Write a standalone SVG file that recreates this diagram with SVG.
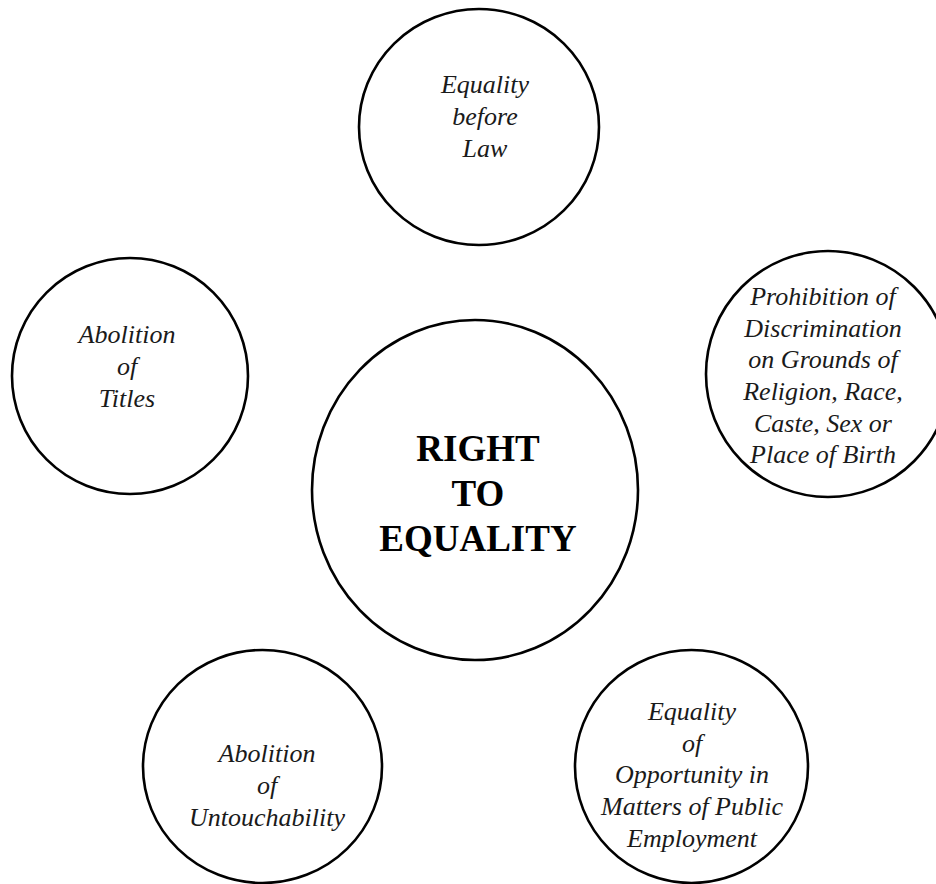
<svg xmlns="http://www.w3.org/2000/svg" width="936" height="884" viewBox="0 0 936 884">
  <style>
    .node { fill: #ffffff; stroke: #000000; stroke-width: 2.6; }
    .lbl { font-family: "Liberation Serif", "Times New Roman", serif; font-style: italic; font-size: 26px; fill: #1a1a1a; text-anchor: middle; }
    .title { font-family: "Liberation Serif", "Times New Roman", serif; font-weight: bold; font-size: 37px; fill: #000000; text-anchor: middle; }
  </style>
  <rect x="0" y="0" width="936" height="884" fill="#ffffff"/>
  <g id="connectors"/>
  <g id="node-equality-before-law">
    <ellipse class="node" cx="479" cy="127" rx="120" ry="118"/>
    <text class="lbl" x="485" y="93">Equality</text>
    <text class="lbl" x="485" y="125">before</text>
    <text class="lbl" x="485" y="157">Law</text>
  </g>
  <g id="node-abolition-titles">
    <ellipse class="node" cx="130" cy="376" rx="118" ry="118"/>
    <text class="lbl" x="127" y="343">Abolition</text>
    <text class="lbl" x="127" y="375">of</text>
    <text class="lbl" x="127" y="407">Titles</text>
  </g>
  <g id="node-prohibition">
    <ellipse class="node" cx="828" cy="374" rx="122" ry="123"/>
    <text class="lbl" x="823" y="305">Prohibition of</text>
    <text class="lbl" x="823" y="337">Discrimination</text>
    <text class="lbl" x="823" y="368">on Grounds of</text>
    <text class="lbl" x="823" y="400">Religion, Race,</text>
    <text class="lbl" x="823" y="432">Caste, Sex or</text>
    <text class="lbl" x="823" y="463">Place of Birth</text>
  </g>
  <g id="node-right-to-equality">
    <ellipse class="node" cx="475" cy="490" rx="163" ry="170"/>
    <text class="title" x="478" y="461">RIGHT</text>
    <text class="title" x="478" y="506">TO</text>
    <text class="title" x="478" y="551">EQUALITY</text>
  </g>
  <g id="node-abolition-untouchability">
    <ellipse class="node" cx="262.5" cy="766.5" rx="119.5" ry="116.5"/>
    <text class="lbl" x="267" y="762">Abolition</text>
    <text class="lbl" x="267" y="794">of</text>
    <text class="lbl" x="267" y="826">Untouchability</text>
  </g>
  <g id="node-equality-opportunity">
    <ellipse class="node" cx="691.5" cy="766.5" rx="116.5" ry="116.5"/>
    <text class="lbl" x="692" y="720">Equality</text>
    <text class="lbl" x="692" y="752">of</text>
    <text class="lbl" x="692" y="783">Opportunity in</text>
    <text class="lbl" x="692" y="815">Matters of Public</text>
    <text class="lbl" x="692" y="847">Employment</text>
  </g>
</svg>
